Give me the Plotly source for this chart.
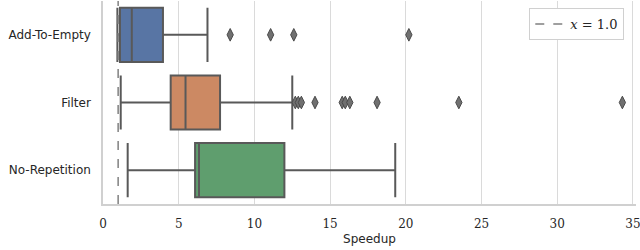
import plotly.graph_objects as go

categories = ["Add-To-Empty", "Filter", "No-Repetition"]
q1 = [1.12, 4.47, 6.08]
median = [1.9, 5.45, 6.34]
q3 = [3.96, 7.73, 11.98]
lower = [0.95, 1.17, 1.63]
upper = [6.9, 12.5, 19.3]
outliers = [
    [8.4, 11.07, 12.6, 20.2],
    [12.7, 12.9, 13.1, 14.0, 15.8, 16.0, 16.3, 18.1, 23.5, 34.3],
    [],
]
colors = ["#5875a4", "#cc8963", "#5f9e6e"]
xticks = [0, 5, 10, 15, 20, 25, 30, 35]
ref_x = 1.0

line_col = "#595959"

fig = go.Figure()
for i, c in enumerate(categories):
    fig.add_trace(go.Box(
        y=[c], q1=[q1[i]], median=[median[i]], q3=[q3[i]],
        lowerfence=[lower[i]], upperfence=[upper[i]],
        orientation="h", width=0.8, fillcolor=colors[i],
        line=dict(color=line_col, width=2), whiskerwidth=1,
        boxpoints=False, showlegend=False, hoverinfo="skip",
    ))
    if outliers[i]:
        fig.add_trace(go.Scatter(
            x=outliers[i], y=[c] * len(outliers[i]), mode="markers",
            marker=dict(symbol="diamond-tall", size=9, color="#707070",
                        line=dict(color="#4a4a4a", width=1)),
            showlegend=False, hoverinfo="skip",
        ))

fig.add_shape(type="line", x0=ref_x, x1=ref_x, y0=0, y1=1, xref="x", yref="paper",
              line=dict(color="#808080", width=1.5, dash="dash"),
              showlegend=True, name="<i>x</i> = 1.0", layer="above")

fig.update_layout(
    width=640, height=250,
    margin=dict(l=103, r=4, t=1, b=46),
    plot_bgcolor="white", paper_bgcolor="white",
    legend=dict(x=0.978, y=0.965, xanchor="right", yanchor="top",
                bordercolor="#d0d0d0", borderwidth=1, bgcolor="white",
                font=dict(family="DejaVu Serif", size=13, color="#262626")),
    xaxis=dict(range=[0, 35.2], tickvals=xticks, showgrid=True, gridcolor="#dadada",
               gridwidth=1, zeroline=False, showline=True, linecolor="#d0d0d0",
               linewidth=1.5, ticks="", ticklabelstandoff=8, automargin=False,
               ticklabeloverflow="allow",
               tickfont=dict(family="DejaVu Serif", size=12, color="#262626"),
               title=dict(text="Speedup", standoff=4,
                          font=dict(family="DejaVu Sans", size=12, color="#262626"))),
    yaxis=dict(type="category", categoryorder="array", categoryarray=categories,
               range=[2.5, -0.5], showgrid=False, zeroline=False, showline=True,
               linecolor="#d0d0d0", linewidth=1.5, ticks="", ticklabelstandoff=8,
               automargin=False,
               tickfont=dict(family="DejaVu Sans", size=12, color="#262626")),
)

fig.write_html(
    "out.html", config={"displayModeBar": False},
    post_script=("document.documentElement.style.overflow='hidden';"
                 "document.body.style.margin='0';document.body.style.overflow='hidden';"),
)
